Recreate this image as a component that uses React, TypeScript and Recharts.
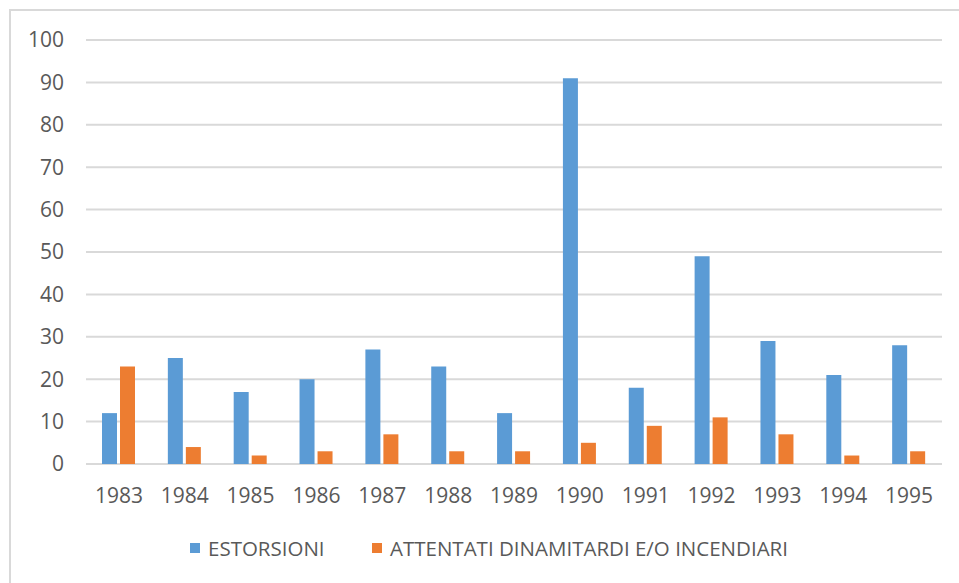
import React from "react";
import { BarChart, Bar, XAxis, YAxis, CartesianGrid } from "recharts";

// Valori (1983–1995)
const YEARS = ["1983", "1984", "1985", "1986", "1987", "1988", "1989", "1990", "1991", "1992", "1993", "1994", "1995"];
const ESTORSIONI = [12, 25, 17, 20, 27, 23, 12, 91, 18, 49, 29, 21, 28];
const ATTENTATI = [23, 4, 2, 3, 7, 3, 3, 5, 9, 11, 7, 2, 3];
const Y_TICKS = [0, 10, 20, 30, 40, 50, 60, 70, 80, 90, 100];

const SERIES = [
  { key: "estorsioni", name: "ESTORSIONI", color: "#5B9BD5" },
  { key: "attentati", name: "ATTENTATI DINAMITARDI E/O INCENDIARI", color: "#ED7D31" },
];
const LEGEND_X = [190, 372];

const data = YEARS.map((year, i) => ({
  year,
  estorsioni: ESTORSIONI[i],
  attentati: ATTENTATI[i],
}));

const FONT = "'Open Sans', sans-serif";
const TEXT = "#595959";

export default function App() {
  return (
    <div
      style={{
        position: "absolute",
        left: 0,
        top: 0,
        width: 959,
        height: 583,
        overflow: "hidden",
        background: "#fff",
        fontFamily: FONT,
      }}
    >
      {/* cornice del grafico */}
      <div
        style={{
          position: "absolute",
          left: 9,
          top: 9,
          width: 1100,
          height: 800,
          border: "2px solid #d9d9d9",
        }}
      />
      <div style={{ position: "absolute", left: 0, top: 0 }}>
        <BarChart
          width={959}
          height={583}
          data={data}
          margin={{ top: 40, right: 17, left: 0, bottom: 59 }}
          barSize={15}
          barGap={3}
        >
          <CartesianGrid vertical={false} stroke="#d9d9d9" strokeWidth={2} />
          <XAxis
            dataKey="year"
            axisLine={false}
            tickLine={false}
            tickSize={0}
            tickMargin={24}
            height={60}
            interval={0}
            tick={{ fontSize: 21, fill: TEXT, fontFamily: FONT }}
          />
          <YAxis
            domain={[0, 100]}
            ticks={Y_TICKS}
            axisLine={false}
            tickLine={false}
            tickSize={0}
            tickMargin={22}
            width={86}
            interval={0}
            tick={{ fontSize: 21, fill: TEXT, fontFamily: FONT }}
          />
          {SERIES.map((s) => (
            <Bar key={s.key} dataKey={s.key} name={s.name} fill={s.color} isAnimationActive={false} />
          ))}
        </BarChart>
      </div>
      {/* legenda */}
      {SERIES.map((s, i) => (
        <div
          key={s.key}
          style={{
            position: "absolute",
            left: LEGEND_X[i],
            top: 534,
            display: "flex",
            alignItems: "center",
            gap: 8,
            fontSize: 20.5,
            color: TEXT,
            whiteSpace: "nowrap",
          }}
        >
          <span style={{ display: "inline-block", width: 10, height: 10, background: s.color }} />
          <span>{s.name}</span>
        </div>
      ))}
    </div>
  );
}
